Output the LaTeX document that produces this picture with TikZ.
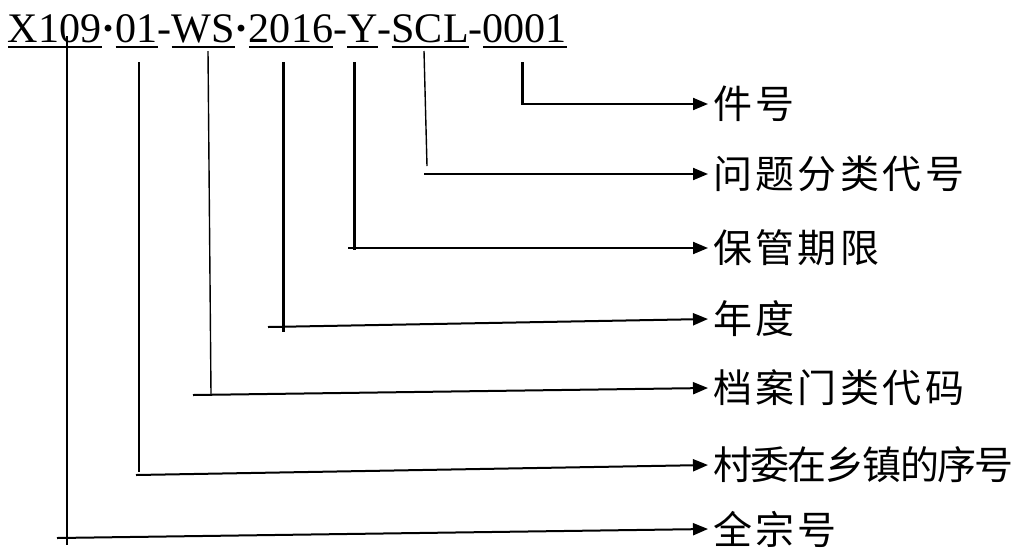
\documentclass[tikz,border=0pt]{standalone}
\usepackage{fontspec}
\setmainfont{Liberation Serif}
\newfontfamily\cjk{Noto Sans CJK SC}
\usetikzlibrary{arrows.meta}
\newcommand\gp{\hspace{3.5pt}}
\newcommand\ngp{\hspace{-1.6pt}}
\newcommand\mdot{\textbf{·}}
\tikzset{
  seg/.style={inner sep=0pt, outer sep=0pt, anchor=base west, font=\fontsize{42.1pt}{42.1pt}\selectfont},
  ul/.style={line width=2pt, line cap=butt},
  thinv/.style={line width=1.4pt},
  thickv/.style={line width=3pt},
  hline/.style={line width=2pt, -{Triangle[length=15pt,width=12pt]}},
  lbl/.style={anchor=west, inner sep=0pt, outer xsep=5pt, outer ysep=0pt, font=\fontsize{39pt}{39pt}\selectfont\cjk}
}
\begin{document}
\begin{tikzpicture}[x=1pt,y=-1pt]
\useasboundingbox (0,0) rectangle (1017,550);
% title segments
\node[seg] (s1) at (8,42) {X109};
\node[seg] (d1) at (s1.base east) {\mdot};
\node[seg] (s2) at (d1.base east) {01};
\node[seg] (d2) at (s2.base east) {-};
\node[seg] (s3) at (d2.base east) {WS};
\node[seg] (d3) at (s3.base east) {\mdot};
\node[seg] (s4) at (d3.base east) {2016};
\node[seg] (d4) at (s4.base east) {-};
\node[seg] (s5) at (d4.base east) {Y};
\node[seg] (d5) at (s5.base east) {-};
\node[seg] (s6) at (d5.base east) {SCL};
\node[seg] (d6) at (s6.base east) {-};
\node[seg] (s7) at (d6.base east) {0001};
\foreach \s in {s1,s2,s3,s4,s5,s6,s7}
  \draw[ul] ([yshift=-5pt]\s.base west) -- ([yshift=-5pt]\s.base east);
% labels
\node[lbl] (l7) at (708,104) {件\gp 号};
\node[lbl] (l6) at (708,174) {问\gp 题\gp 分\gp 类\gp 代\gp 号};
\node[lbl] (l5) at (708,248) {保\gp 管\gp 期\gp 限};
\node[lbl] (l4) at (708,319) {年\gp 度};
\node[lbl] (l3) at (708,388) {档\gp 案\gp 门\gp 类\gp 代\gp 码};
\node[lbl] (l2) at (708,465) {村\ngp 委\ngp 在\ngp 乡\ngp 镇\ngp 的\ngp 序\ngp 号};
\node[lbl] (l1) at (708,529) {全\gp 宗\gp 号};
% vertical line ends
\coordinate (t1) at (67,36);   \coordinate (b1) at (67,545);
\coordinate (t2) at (139,62);  \coordinate (b2) at (139,472);
\coordinate (t3) at (208,51);  \coordinate (b3) at (211,394);
\coordinate (t4) at (283,62);  \coordinate (b4) at (283,332);
\coordinate (t5) at (354,62);  \coordinate (b5) at (354,250);
\coordinate (t6) at (424,51);  \coordinate (b6) at (427,166);
\coordinate (t7) at (522,62);  \coordinate (b7) at (522,105);
% horizontal line starts
\coordinate (c1) at (57,538);
\coordinate (c2) at (136,475);
\coordinate (c3) at (193,395);
\coordinate (c4) at (268,327);
\coordinate (c5) at (348,248);
\coordinate (c6) at (424,174);
\coordinate (c7) at (521,104);
% verticals
\draw[thinv]  (t1) -- (b1);
\draw[thinv]  (t2) -- (b2);
\draw[thinv]  (t3) -- (b3);
\draw[thickv] (t4) -- (b4);
\draw[thickv] (t5) -- (b5);
\draw[thinv]  (t6) -- (b6);
\draw[thickv] (t7) -- (b7);
% horizontals with arrows
\draw[hline] (c1) -- (l1.west);
\draw[hline] (c2) -- (l2.west);
\draw[hline] (c3) -- (l3.west);
\draw[hline] (c4) -- (l4.west);
\draw[hline] (c5) -- (l5.west);
\draw[hline] (c6) -- (l6.west);
\draw[hline] (c7) -- (l7.west);
\end{tikzpicture}
\end{document}
